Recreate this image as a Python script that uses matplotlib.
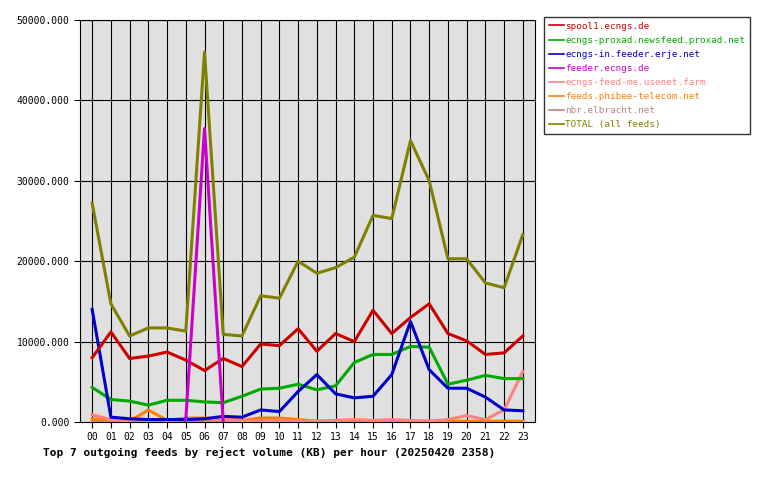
import matplotlib
matplotlib.use("Agg")
import matplotlib.pyplot as plt
from matplotlib.ticker import FuncFormatter

hours = ["%02d" % h for h in range(24)]
spool1 = [8000,11200,7900,8200,8700,7700,6400,7900,6900,9700,9500,11600,8800,11000,10000,13900,11000,13000,14700,11000,10100,8400,8600,10700]
proxad = [4300,2800,2600,2100,2700,2700,2500,2400,3200,4100,4200,4700,4000,4500,7400,8400,8400,9400,9300,4700,5200,5800,5400,5400]
erje = [14000,600,400,300,300,300,400,700,600,1500,1300,3800,5900,3500,3000,3200,5900,12500,6500,4200,4200,3100,1500,1400]
feeder = [0,0,0,0,0,300,36500,100,0,0,0,0,0,0,0,0,0,0,0,0,0,0,0,0]
feedme = [900,300,100,100,100,300,400,300,100,100,200,100,100,200,300,200,300,200,100,300,800,300,1500,6300]
phibee = [400,300,100,1500,200,500,500,300,200,500,500,300,100,100,100,100,100,100,100,100,100,100,100,100]
nbr = [100]*24
total = [27200,14700,10700,11700,11700,11300,46000,10900,10700,15700,15400,20000,18500,19200,20500,25700,25300,35000,30000,20300,20300,17300,16700,23300]

series = [
    ("spool1.ecngs.de", spool1, "#cc0000"),
    ("ecngs-proxad.newsfeed.proxad.net", proxad, "#00aa00"),
    ("ecngs-in.feeder.erje.net", erje, "#0000cc"),
    ("feeder.ecngs.de", feeder, "#cc00cc"),
    ("ecngs-feed-me.usenet.farm", feedme, "#ff8080"),
    ("feeds.phibee-telecom.net", phibee, "#ff8000"),
    ("nbr.elbracht.net", nbr, "#c08080"),
    ("TOTAL (all feeds)", total, "#808000"),
]

plt.rcParams["font.family"] = "DejaVu Sans Mono"
fig = plt.figure(figsize=(7.8, 4.8), dpi=100)
ax = fig.add_axes([80/780, 58/480, 455/780, 402/480])
ax.set_facecolor("#e0e0e0")
x = list(range(24))
draw_order = [7, 6, 5, 4, 1, 2, 0, 3]
lines = {}
for i in draw_order:
    name, vals, col = series[i]
    if name == "feeder.ecngs.de":
        xs = [4.95, 5, 6, 7]
        vs = [0, vals[5], vals[6], 0]
        ln, = ax.plot(xs, vs, color=col, lw=2.2, label=name, zorder=3)
    else:
        ln, = ax.plot(x, vals, color=col, lw=2.2, label=name, zorder=3)
    lines[i] = ln
ax.set_xlim(-0.65, 23.65)
ax.set_ylim(0, 50000)
ax.set_xticks(x)
ax.set_xticklabels(hours)
ax.set_yticks(range(0, 50001, 10000))
ax.yaxis.set_major_formatter(FuncFormatter(lambda v, p: "%.3f" % v))
ax.tick_params(labelsize=7, length=4)
for xi in x:
    ax.axvline(xi, color="black", lw=0.8, zorder=1)
for yv in range(10000, 50001, 10000):
    ax.axhline(yv, color="black", lw=0.8, zorder=1)
fig.text(43/780, 1 - 452/480, "Top 7 outgoing feeds by reject volume (KB) per hour (20250420 2358)",
         fontsize=8, fontweight="bold", va="center", ha="left")
handles = [lines[i] for i in range(8)]
leg = fig.legend(handles, [s[0] for s in series], loc="upper left",
                 bbox_to_anchor=(544/780, 1 - 17/480), fontsize=6.7, frameon=True,
                 fancybox=False, edgecolor="black", handlelength=1.6, labelspacing=0.55,
                 borderpad=0.5, handletextpad=0.2, borderaxespad=0)
leg.get_frame().set_linewidth(1)
for t, s in zip(leg.get_texts(), series):
    t.set_color(s[2])
for h in leg.legend_handles:
    h.set_linewidth(1.2)
fig.savefig("out.png", dpi=100)
